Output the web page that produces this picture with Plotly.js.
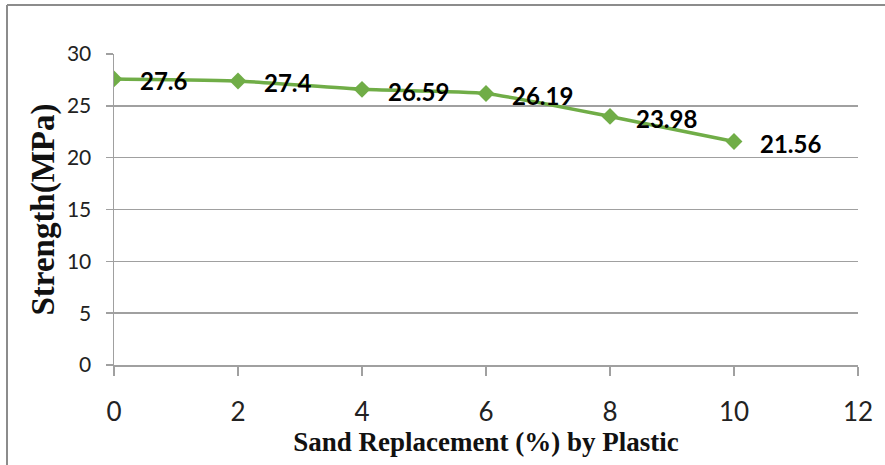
<!DOCTYPE html>
<html>
<head>
<meta charset="utf-8">
<script src="https://cdn.plot.ly/plotly-3.0.1.min.js"></script>
<style>html,body{margin:0;padding:0;background:#fff;}#chart{width:885px;height:465px;}</style>
</head>
<body>
<div id="chart"></div>
<script>
const replacement = [0, 2, 4, 6, 8, 10];
const strength = [27.6, 27.4, 26.59, 26.19, 23.98, 21.56];
const labels = ['27.6', '27.4', '26.59', '26.19', '23.98', '21.56'];

const W = 885, H = 465, L = 114, R = 27, T = 54, B = 100;
const pw = W - L - R, ph = H - T - B;
const px = v => (v - L) / pw;
const py = v => (H - B - v) / ph;

const trace = {
  x: replacement, y: strength, type: 'scatter', mode: 'lines+markers',
  line: {color: '#70ad47', width: 3.5, shape: 'spline', smoothing: 0.5},
  marker: {symbol: 'diamond', size: 13, color: '#70ad47'},
  hoverinfo: 'skip'
};

const annotations = replacement.map((x, i) => ({
  x: x, y: strength[i], xref: 'x', yref: 'y', text: labels[i], showarrow: false,
  xanchor: 'left', yanchor: 'middle', xshift: 24, yshift: -2,
  font: {family: 'Lato, sans-serif', size: 24, color: '#000', weight: 'bold'}
}));

const layout = {
  width: W, height: H,
  margin: {l: L, r: R, t: T, b: B},
  paper_bgcolor: '#fff', plot_bgcolor: '#fff',
  showlegend: false,
  xaxis: {
    range: [0, 12], dtick: 2, tick0: 0, showgrid: false, zeroline: false,
    showline: true, linecolor: '#a0a0a0', linewidth: 1.5,
    ticks: 'outside', ticklen: 9, tickcolor: '#a0a0a0', tickwidth: 1.5,
    ticklabelstandoff: 14,
    tickfont: {family: 'Lato, sans-serif', size: 26, color: '#222'},
    title: {text: 'Sand Replacement (%) by Plastic', standoff: 2,
      font: {family: 'Liberation Serif, serif', size: 27, color: '#111', weight: 'bold'}},
    fixedrange: true
  },
  yaxis: {
    range: [0, 30], dtick: 5, tick0: 0, showgrid: true, gridcolor: '#a0a0a0', gridwidth: 1.5,
    zeroline: false, showline: true, linecolor: '#a0a0a0', linewidth: 1.5,
    ticks: 'outside', ticklen: 7, tickcolor: '#a0a0a0', tickwidth: 1.5,
    ticklabelstandoff: 10,
    tickfont: {family: 'Lato, sans-serif', size: 21, color: '#222'},
    title: {text: 'Strength(MPa)', standoff: 2,
      font: {family: 'Liberation Serif, serif', size: 33, color: '#111', weight: 'bold'}},
    fixedrange: true
  },
  annotations: annotations,
  shapes: [
    {type: 'line', xref: 'paper', yref: 'paper', x0: px(7), x1: px(885), y0: py(5), y1: py(5), line: {color: '#8c8c8c', width: 2}},
    {type: 'line', xref: 'paper', yref: 'paper', x0: px(7), x1: px(7), y0: py(5), y1: py(465), line: {color: '#8c8c8c', width: 2}}
  ]
};

Plotly.newPlot('chart', [trace], layout, {displayModeBar: false, staticPlot: true});
</script>
</body>
</html>
